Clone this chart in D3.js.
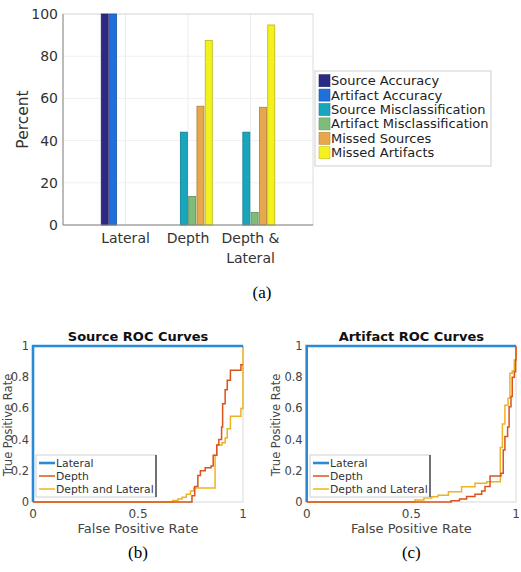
<!DOCTYPE html>
<html>
<head>
<meta charset="utf-8">
<script src="https://cdn.jsdelivr.net/npm/d3@7"></script>
<style>
  body { margin: 0; background: #fff; }
  svg { font-family: "DejaVu Sans", sans-serif; }
</style>
</head>
<body>
<div id="chart"></div>
<script>
// ---- data ----
let barCategories = ["Lateral", "Depth", "Depth & Lateral"];
let barSeries = ["Source Accuracy", "Artifact Accuracy", "Source Misclassification",
                 "Artifact Misclassification", "Missed Sources", "Missed Artifacts"];
let lateralValues = [100, 100, 0, 0, 0, 0];
let depthValues = [0, 0, 44, 13.5, 56.3, 87.5];
let depthLateralValues = [0, 0, 44, 6, 55.8, 94.8];
let percentTicks = [0, 20, 40, 60, 80, 100];

let rocSeries = ["Lateral", "Depth", "Depth and Lateral"];
let rocTicksY = [0, 0.2, 0.4, 0.6, 0.8, 1];
let rocTicksX = [0, 0.5, 1];

// lateral is perfect in both
let lateralRoc = [[0, 0], [0, 1], [1, 1]];
let sourceDepth = [[0, 0], [0.75, 0], [0.757, 0.04], [0.77, 0.1], [0.785, 0.17], [0.797, 0.2],
  [0.82, 0.22], [0.848, 0.23], [0.858, 0.3], [0.875, 0.365], [0.885, 0.4], [0.898, 0.48],
  [0.903, 0.63], [0.915, 0.72], [0.925, 0.78], [0.94, 0.845], [0.99, 0.88], [1, 0.88]];
let sourceDepthLat = [[0, 0], [0.64, 0], [0.665, 0.01], [0.69, 0.02], [0.71, 0.03], [0.73, 0.05],
  [0.75, 0.07], [0.765, 0.09], [0.867, 0.3], [0.875, 0.365], [0.9, 0.38], [0.915, 0.41],
  [0.925, 0.47], [0.94, 0.55], [0.99, 0.6], [1, 1]];
let artifactDepth = [[0, 0], [0.66, 0], [0.69, 0.008], [0.73, 0.02], [0.764, 0.035], [0.804, 0.05],
  [0.836, 0.07], [0.852, 0.1], [0.876, 0.167], [0.928, 0.184], [0.939, 0.333], [0.947, 0.42],
  [0.96, 0.48], [0.967, 0.61], [0.976, 0.676], [0.982, 0.8], [0.992, 0.835], [0.998, 0.91], [1, 1]];
let artifactDepthLat = [[0, 0], [0.5, 0], [0.517, 0.013], [0.56, 0.025], [0.597, 0.034],
  [0.627, 0.043], [0.677, 0.066], [0.74, 0.098], [0.804, 0.12], [0.86, 0.13], [0.925, 0.35],
  [0.935, 0.5], [0.947, 0.62], [0.962, 0.665], [0.971, 0.825], [0.982, 0.84], [0.992, 0.91], [1, 1]];

// ---- styles ----
let barColors = ["#2c2b84", "#1f70da", "#18a6bd", "#7dbd79", "#e6a84b", "#f4f21c"];
let rocColors = ["#2a8ad6", "#d9541c", "#eeb322"];

let w = 521, h = 572;
let svg = d3.select("#chart").append("svg")
  .attr("width", w).attr("height", h);

// ================= bar chart (a) =================
let barAll = [lateralValues, depthValues, depthLateralValues];
let bLeft = 63, bRight = 313, bTop = 14, bBottom = 225;
let xBar = d3.scaleLinear().domain([0, 4]).range([bLeft, bRight]);
let yBar = d3.scaleLinear().domain([0, 100]).range([bBottom, bTop]);

let barG = svg.append("g");
// grid
barG.selectAll(".hgrid").data(percentTicks).enter().append("line")
  .attr("x1", bLeft).attr("x2", bRight)
  .attr("y1", d => yBar(d)).attr("y2", d => yBar(d))
  .attr("stroke", "#f0f0f0");
barG.selectAll(".vgrid").data(barCategories).enter().append("line")
  .attr("x1", (d, i) => xBar(i + 1)).attr("x2", (d, i) => xBar(i + 1))
  .attr("y1", bTop).attr("y2", bBottom)
  .attr("stroke", "#ececf2");
barG.append("rect")
  .attr("x", bLeft).attr("y", bTop).attr("width", bRight - bLeft).attr("height", bBottom - bTop)
  .attr("fill", "none").attr("stroke", "#dcdcdc");

let step = 8.3, bw = 7;
barAll.forEach(function(vals, ci) {
  let rows = vals.map((v, i) => ({v: v, s: i})).filter(d => d.v > 0);
  barG.selectAll(".bar" + ci).data(rows).enter().append("rect")
    .attr("x", d => xBar(ci + 1) + (d.s - 2.5) * step - bw / 2)
    .attr("y", d => yBar(d.v))
    .attr("width", bw)
    .attr("height", d => yBar(0) - yBar(d.v))
    .attr("fill", d => barColors[d.s])
    .attr("stroke", d => d3.color(barColors[d.s]).darker(0.8))
    .attr("stroke-width", 0.8);
});

// axes
barG.append("line").attr("x1", bLeft).attr("x2", bLeft).attr("y1", bTop).attr("y2", bBottom)
  .attr("stroke", "#8a8a8a");
barG.append("line").attr("x1", bLeft).attr("x2", bRight).attr("y1", bBottom).attr("y2", bBottom)
  .attr("stroke", "#8a8a8a");
barG.selectAll(".ytick").data(percentTicks).enter().append("text")
  .attr("x", bLeft - 5).attr("y", d => yBar(d) + 5)
  .attr("text-anchor", "end").attr("font-size", 14).attr("fill", "#333")
  .text(d => d);
barCategories.forEach(function(c, i) {
  let lines = c == "Depth & Lateral" ? ["Depth &", "Lateral"] : [c];
  lines.forEach(function(l, j) {
    barG.append("text")
      .attr("x", xBar(i + 1)).attr("y", 243 + j * 20)
      .attr("text-anchor", "middle").attr("font-size", 14).attr("fill", "#333")
      .text(l);
  });
});
barG.append("text")
  .attr("transform", "translate(28," + ((bTop + bBottom) / 2) + ") rotate(-90)")
  .attr("text-anchor", "middle").attr("font-size", 15.5).attr("fill", "#333")
  .text("Percent");

// legend
let lg = barG.append("g");
lg.append("rect").attr("x", 315).attr("y", 71).attr("width", 176).attr("height", 95)
  .attr("fill", "#fff").attr("stroke", "#cfcfcf");
barSeries.forEach(function(s, i) {
  let cy = 80.7 + i * 14.4;
  lg.append("rect").attr("x", 319).attr("y", cy - 6).attr("width", 11).attr("height", 12)
    .attr("fill", barColors[i]).attr("stroke", d3.color(barColors[i]).darker(0.6)).attr("stroke-width", 0.6);
  lg.append("text").attr("x", 331).attr("y", cy + 4.5)
    .attr("font-size", 13).attr("fill", "#222").text(s);
});

svg.append("text").attr("x", 262).attr("y", 298)
  .attr("text-anchor", "middle").attr("font-family", "Liberation Serif, serif")
  .attr("font-size", 17).text("(a)");

// ================= ROC panels (b), (c) =================
function rocPanel(left, right, title, depthData, depthLatData, caption, legendX, yLabelX) {
  let top = 346, bottom = 502;
  let x = d3.scaleLinear().domain([0, 1]).range([left, right]);
  let y = d3.scaleLinear().domain([0, 1]).range([bottom, top]);
  let g = svg.append("g");

  g.append("rect").attr("x", left).attr("y", top).attr("width", right - left).attr("height", bottom - top)
    .attr("fill", "none").attr("stroke", "#d8d8d8");

  let line = d3.line().x(d => x(d[0])).y(d => y(d[1])).curve(d3.curveStepAfter);
  let series = [lateralRoc, depthData, depthLatData];
  // draw depth & lateral below depth, lateral last
  [2, 1, 0].forEach(function(k) {
    g.append("path").datum(series[k])
      .attr("d", line)
      .attr("fill", "none")
      .attr("stroke", rocColors[k])
      .attr("stroke-width", k == 0 ? 2.6 : 1.5);
  });

  g.selectAll(".yt").data(rocTicksY).enter().append("text")
    .attr("x", left - 4).attr("y", d => y(d) + 4)
    .attr("text-anchor", "end").attr("font-size", 11.5).attr("fill", "#444")
    .text(d => d);
  g.selectAll(".xt").data(rocTicksX).enter().append("text")
    .attr("x", d => x(d)).attr("y", 518)
    .attr("text-anchor", "middle").attr("font-size", 12).attr("fill", "#444")
    .text(d => d);
  g.append("text").attr("x", (left + right) / 2).attr("y", 533)
    .attr("text-anchor", "middle").attr("font-size", 13).attr("fill", "#444")
    .text("False Positive Rate");
  g.append("text")
    .attr("transform", "translate(" + yLabelX + "," + 425 + ") rotate(-90)")
    .attr("text-anchor", "middle").attr("font-size", 11.5).attr("fill", "#444")
    .text("True Positive Rate");
  g.append("text").attr("x", (left + right) / 2).attr("y", 341)
    .attr("text-anchor", "middle").attr("font-size", 13).attr("font-weight", "bold").attr("fill", "#111")
    .text(title);

  // legend
  let lx = legendX;
  g.append("rect").attr("x", lx).attr("y", 455).attr("width", 120).attr("height", 42)
    .attr("fill", "#fff").attr("stroke", "#d0d0d0");
  g.append("line").attr("x1", lx + 120).attr("x2", lx + 120).attr("y1", 455).attr("y2", 497)
    .attr("stroke", "#222").attr("stroke-width", 1.2);
  rocSeries.forEach(function(s, i) {
    let cy = 463 + i * 13;
    g.append("line").attr("x1", lx + 3).attr("x2", lx + 19).attr("y1", cy).attr("y2", cy)
      .attr("stroke", rocColors[i]).attr("stroke-width", i == 0 ? 2.6 : 1.5);
    g.append("text").attr("x", lx + 20).attr("y", cy + 4)
      .attr("font-size", 10.8).attr("fill", "#333").text(s);
  });

  svg.append("text").attr("x", (left + right) / 2).attr("y", 558)
    .attr("text-anchor", "middle").attr("font-family", "Liberation Serif, serif")
    .attr("font-size", 17).text(caption);
}

rocPanel(33, 243, "Source ROC Curves", sourceDepth, sourceDepthLat, "(b)", 36, 11.5);
rocPanel(306.7, 516, "Artifact ROC Curves", artifactDepth, artifactDepthLat, "(c)", 310, 280);
</script>
</body>
</html>
